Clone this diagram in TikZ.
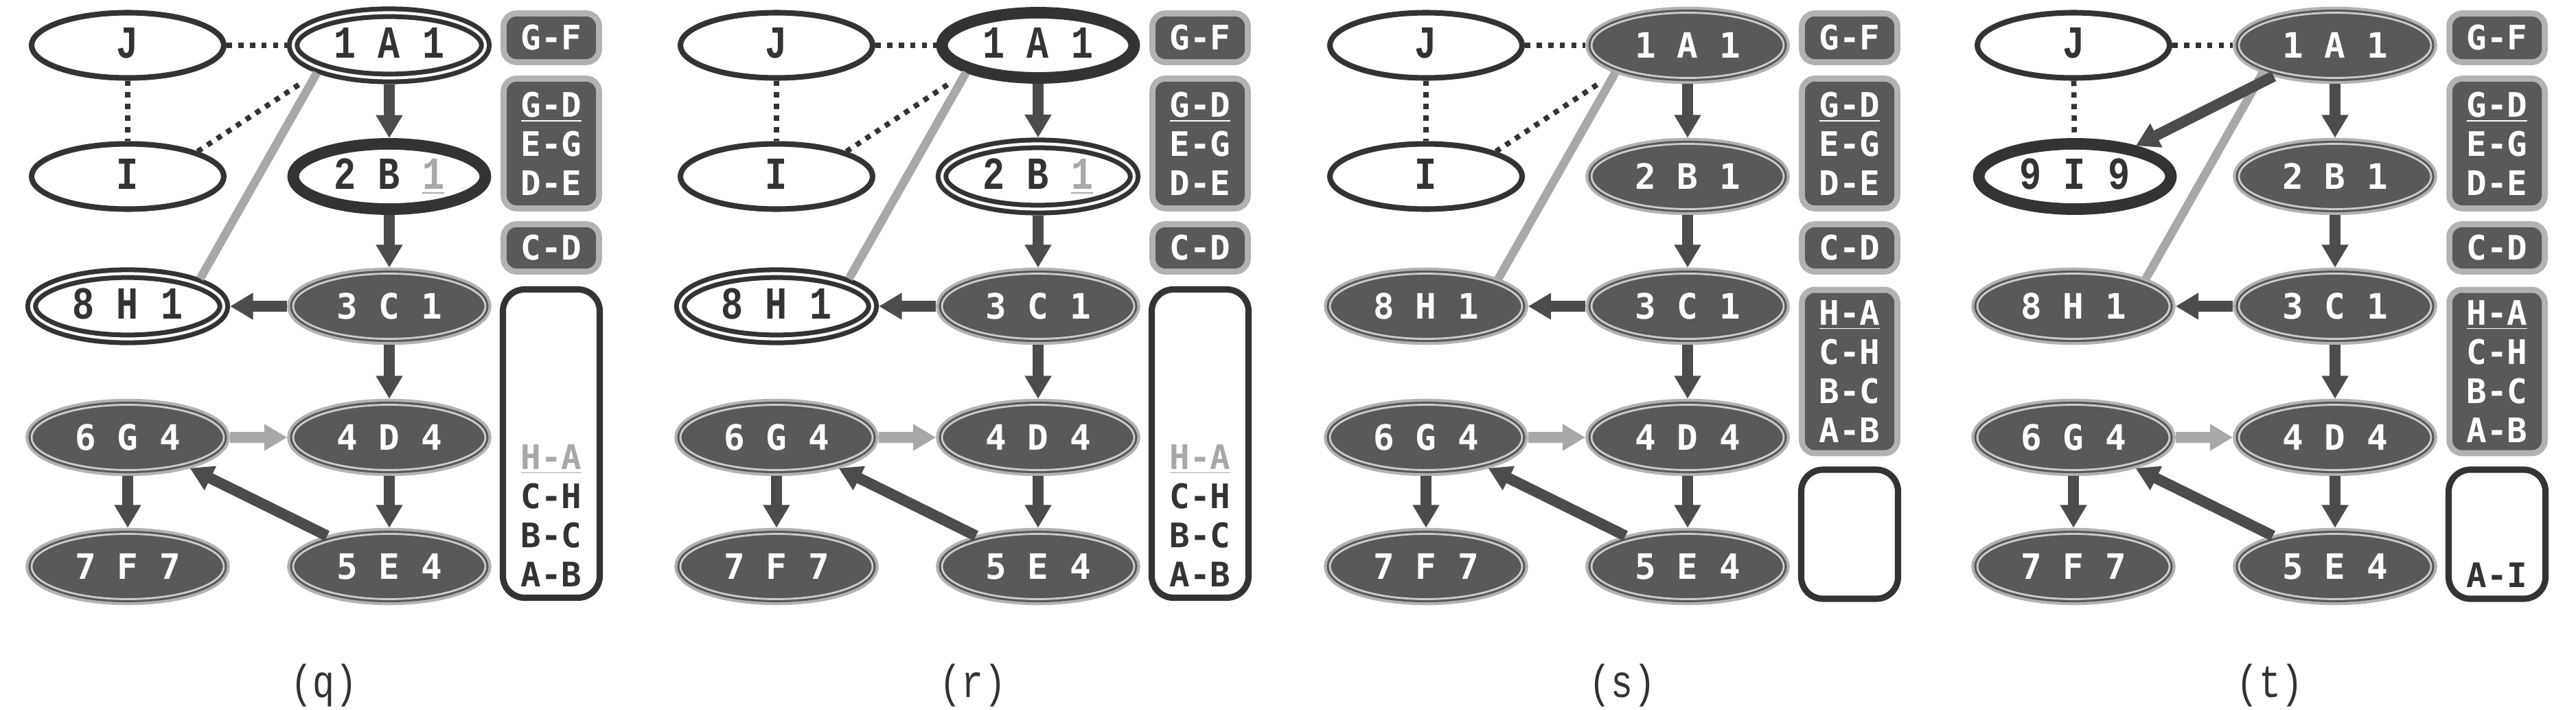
\documentclass[tikz,border=0pt]{standalone}
\usepackage[rgb]{xcolor}
\usepackage{tikz}
\usepackage{fontspec}
\usetikzlibrary{arrows.meta,shapes.geometric}

\newfontfamily\slabfont[FakeStretch=0.8]{Liberation Mono}
\newfontfamily\sansmono{DejaVu Sans Mono}

\definecolor{inkgray}{gray}{0.2}
\definecolor{arrowgray}{gray}{0.3}
\definecolor{fillgray}{gray}{0.35}
\definecolor{halogray}{gray}{0.7}
\definecolor{ringgray}{gray}{0.8}
\definecolor{palegray}{gray}{0.66}

\tikzset{
  vtx/.style={ellipse, minimum width=2.8cm, minimum height=0.95cm, inner sep=1pt, text height=10.8pt, text depth=0pt},
  vnew/.style={vtx, draw=inkgray, line width=2.3pt, fill=white, text=inkgray, font=\slabfont\bfseries\fontsize{19}{22}\selectfont},
  vcur/.style={vnew, line width=2pt, double=white, double distance=1.2pt, outer sep=2.6pt},
  vhot/.style={vnew, line width=4.8pt},
  vdone/.style={vtx, fill=fillgray, draw=fillgray, line width=0.9pt, double=ringgray, double distance=0.8pt, outer sep=2.5pt, text=white, font=\sansmono\bfseries\fontsize{14.5}{17}\selectfont, preaction={draw=halogray, line width=5pt}},
  pilebox/.style={rectangle, rounded corners=4pt, fill=fillgray, minimum width=1.3cm, inner sep=0pt, align=center, text=white, font=\sansmono\bfseries\fontsize{14}{16.2}\selectfont, preaction={draw=halogray, line width=5pt}},
  listbox/.style={rectangle, rounded corners=9pt, draw=inkgray, line width=2.6pt, fill=white, minimum width=1.41cm, inner sep=0pt},
  listtext/.style={align=center, inner sep=0pt, text=inkgray, font=\sansmono\bfseries\fontsize{14}{16.2}\selectfont},
  fatarrow/.style={draw=arrowgray, line width=4.5pt, -{Triangle[width=10.5pt,length=9.5pt]}},
  palearrow/.style={fatarrow, draw=palegray},
  backline/.style={draw=palegray, line width=3.5pt},
  dotline/.style={draw=inkgray, line width=2.2pt, dash pattern=on 2.2pt off 2.6pt},
  panelname/.style={text=inkgray, font=\slabfont\fontsize{19}{22}\selectfont}
}

\begin{document}
\begin{tikzpicture}

\useasboundingbox (0,0) rectangle (37.52,-10.33);

%% (q) A and H on the stack, B is being visited
\begin{scope}[name prefix=q]
\path
(1.86,-0.66) node[vnew](j) {J}
(5.67,-0.66) node[vcur](a1) {1 A 1}
(1.86,-2.57) node[vnew](i) {I}
(5.67,-2.57) node[vhot](b2) {2 B \textcolor{palegray}{\underline{1}}}
(1.86,-4.46) node[vcur](h8) {8 H 1}
(5.67,-4.46) node[vdone](c3) {3 C 1}
(1.86,-6.37) node[vdone](g6) {6 G 4}
(5.67,-6.37) node[vdone](d4) {4 D 4}
(1.86,-8.25) node[vdone](f7) {7 F 7}
(5.67,-8.25) node[vdone](e5) {5 E 4};

\path
(8.03,-0.55) node[pilebox, minimum height=0.62cm](gf) {G-F}
(8.03,-2.09) node[pilebox, minimum height=1.80cm](gd) {\underline{G-D}\\E-G\\D-E}
(8.03,-3.61) node[pilebox, minimum height=0.60cm](cd) {C-D}
(8.03,-6.46) node[listbox, minimum height=4.49cm](tray) {};
\path (tray.south) ++(0,0.2) node[listtext, anchor=south](traylist) {\textcolor{palegray}{\underline{H-A}}\\C-H\\B-C\\A-B};

\draw[dotline] (j) -- (a1);
\draw[dotline] (j) -- (i);
\draw[dotline, shorten >=8pt] (i.north east) -- (a1.south west);
\draw[backline] (h8.north east) -- (a1.south west);
\draw[fatarrow] (a1) -- (b2);
\draw[fatarrow] (b2) -- (c3);
\draw[fatarrow] (c3) -- (h8);
\draw[fatarrow] (c3) -- (d4);
\draw[palearrow] (g6) -- (d4);
\draw[fatarrow] (g6) -- (f7);
\draw[fatarrow] (d4) -- (e5);
\draw[fatarrow] (e5) -- (g6);

\path (4.72,-9.98) node[panelname](cap) {(q)};
\end{scope}

%% (r) back at B
\begin{scope}[xshift=9.45cm, name prefix=r]
\path
(1.86,-0.66) node[vnew](j) {J}
(5.67,-0.66) node[vhot](a1) {1 A 1}
(1.86,-2.57) node[vnew](i) {I}
(5.67,-2.57) node[vcur](b2) {2 B \textcolor{palegray}{\underline{1}}}
(1.86,-4.46) node[vcur](h8) {8 H 1}
(5.67,-4.46) node[vdone](c3) {3 C 1}
(1.86,-6.37) node[vdone](g6) {6 G 4}
(5.67,-6.37) node[vdone](d4) {4 D 4}
(1.86,-8.25) node[vdone](f7) {7 F 7}
(5.67,-8.25) node[vdone](e5) {5 E 4};

\path
(8.03,-0.55) node[pilebox, minimum height=0.62cm](gf) {G-F}
(8.03,-2.09) node[pilebox, minimum height=1.80cm](gd) {\underline{G-D}\\E-G\\D-E}
(8.03,-3.61) node[pilebox, minimum height=0.60cm](cd) {C-D}
(8.03,-6.46) node[listbox, minimum height=4.49cm](tray) {};
\path (tray.south) ++(0,0.2) node[listtext, anchor=south](traylist) {\textcolor{palegray}{\underline{H-A}}\\C-H\\B-C\\A-B};

\draw[dotline] (j) -- (a1);
\draw[dotline] (j) -- (i);
\draw[dotline, shorten >=8pt] (i.north east) -- (a1.south west);
\draw[backline] (h8.north east) -- (a1.south west);
\draw[fatarrow] (a1) -- (b2);
\draw[fatarrow] (b2) -- (c3);
\draw[fatarrow] (c3) -- (h8);
\draw[fatarrow] (c3) -- (d4);
\draw[palearrow] (g6) -- (d4);
\draw[fatarrow] (g6) -- (f7);
\draw[fatarrow] (d4) -- (e5);
\draw[fatarrow] (e5) -- (g6);

\path (4.72,-9.98) node[panelname](cap) {(r)};
\end{scope}

%% (s) H, C, B, A popped
\begin{scope}[xshift=18.91cm, name prefix=s]
\path
(1.86,-0.66) node[vnew](j) {J}
(5.67,-0.66) node[vdone](a1) {1 A 1}
(1.86,-2.57) node[vnew](i) {I}
(5.67,-2.57) node[vdone](b2) {2 B 1}
(1.86,-4.46) node[vdone](h8) {8 H 1}
(5.67,-4.46) node[vdone](c3) {3 C 1}
(1.86,-6.37) node[vdone](g6) {6 G 4}
(5.67,-6.37) node[vdone](d4) {4 D 4}
(1.86,-8.25) node[vdone](f7) {7 F 7}
(5.67,-8.25) node[vdone](e5) {5 E 4};

\path
(8.03,-0.55) node[pilebox, minimum height=0.62cm](gf) {G-F}
(8.03,-2.09) node[pilebox, minimum height=1.80cm](gd) {\underline{G-D}\\E-G\\D-E}
(8.03,-3.61) node[pilebox, minimum height=0.60cm](cd) {C-D}
(8.03,-5.41) node[pilebox, minimum height=2.29cm](ha) {\underline{H-A}\\C-H\\B-C\\A-B}
(8.03,-7.78) node[listbox, minimum height=1.88cm](tray) {};

\draw[dotline] (j) -- (a1);
\draw[dotline] (j) -- (i);
\draw[dotline, shorten >=8pt] (i.north east) -- (a1.south west);
\draw[backline] (h8.north east) -- (a1.south west);
\draw[fatarrow] (a1) -- (b2);
\draw[fatarrow] (b2) -- (c3);
\draw[fatarrow] (c3) -- (h8);
\draw[fatarrow] (c3) -- (d4);
\draw[palearrow] (g6) -- (d4);
\draw[fatarrow] (g6) -- (f7);
\draw[fatarrow] (d4) -- (e5);
\draw[fatarrow] (e5) -- (g6);

\path (4.72,-9.98) node[panelname](cap) {(s)};
\end{scope}

%% (t) new root at I
\begin{scope}[xshift=28.34cm, name prefix=t]
\path
(1.86,-0.66) node[vnew](j) {J}
(5.67,-0.66) node[vdone](a1) {1 A 1}
(1.88,-2.57) node[vhot](i) {9 I 9}
(5.67,-2.57) node[vdone](b2) {2 B 1}
(1.86,-4.46) node[vdone](h8) {8 H 1}
(5.67,-4.46) node[vdone](c3) {3 C 1}
(1.86,-6.37) node[vdone](g6) {6 G 4}
(5.67,-6.37) node[vdone](d4) {4 D 4}
(1.86,-8.25) node[vdone](f7) {7 F 7}
(5.67,-8.25) node[vdone](e5) {5 E 4};

\path
(8.03,-0.55) node[pilebox, minimum height=0.62cm](gf) {G-F}
(8.03,-2.09) node[pilebox, minimum height=1.80cm](gd) {\underline{G-D}\\E-G\\D-E}
(8.03,-3.61) node[pilebox, minimum height=0.60cm](cd) {C-D}
(8.03,-5.41) node[pilebox, minimum height=2.29cm](ha) {\underline{H-A}\\C-H\\B-C\\A-B}
(8.03,-7.78) node[listbox, minimum height=1.88cm](tray) {};
\path (tray.south) ++(0,0.2) node[listtext, anchor=south](traylist) {A-I};

\draw[dotline] (j) -- (a1);
\draw[dotline] (j) -- (i);
\draw[backline] (h8.north east) -- (a1.south west);
\draw[fatarrow] (a1) -- (i);
\draw[fatarrow] (a1) -- (b2);
\draw[fatarrow] (b2) -- (c3);
\draw[fatarrow] (c3) -- (h8);
\draw[fatarrow] (c3) -- (d4);
\draw[palearrow] (g6) -- (d4);
\draw[fatarrow] (g6) -- (f7);
\draw[fatarrow] (d4) -- (e5);
\draw[fatarrow] (e5) -- (g6);

\path (4.72,-9.98) node[panelname](cap) {(t)};
\end{scope}

\end{tikzpicture}
\end{document}
